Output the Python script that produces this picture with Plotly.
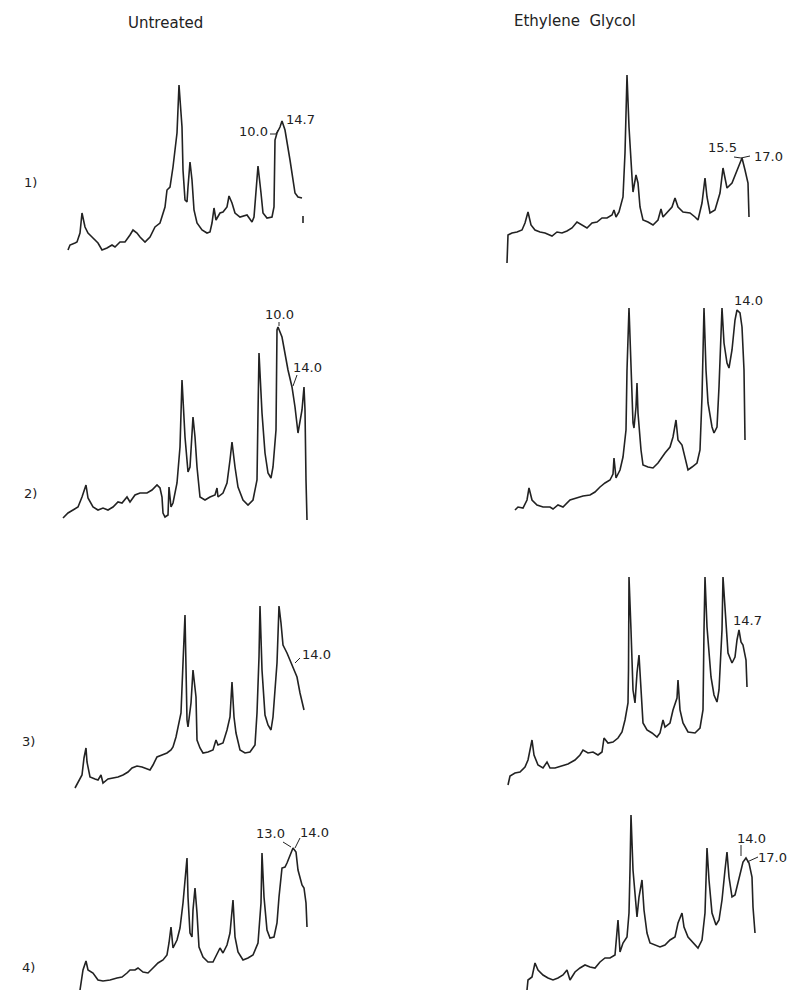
import plotly.graph_objects as go

# ---- data: diffractometer traces, (chart position, intensity) ----
untreated_1 = [(8,10),(10,15),(15,17),(17,18),(20,27),(22,47),(25,33),(28,27),(32,23),(35,20),
               (38,17),(42,10),(47,12),(52,15),(55,13),(60,18),(65,18),(70,25),(73,30),(77,27),
               (80,23),(85,18),(90,23),(95,33),(100,37),(105,53),(107,70),(110,73),(113,93),(117,127),
               (119,175),(122,133),(123,90),(125,60),(127,58),(128,73),(130,98),(132,80),(134,50),(137,37),
               (142,30),(147,27),(150,28),(152,37),(154,52),(156,40),(158,43),(160,47),(163,48),(167,53),
               (169,64),(172,57),(175,47),(180,43),(187,45),(192,38),(194,43),(196,67),(198,94),(201,67),
               (203,47),(207,42),(212,43),(214,53),(215,120),(217,127),(220,133),(222,139),(225,130),(230,100),
               (235,67),(238,63),(242,62),(None,None),(243,44),(243,37)]

glycol_1 = [(7,7),(8,35),(12,37),(17,38),(22,40),(25,47),(28,58),(31,45),(35,40),(40,38),
            (45,37),(52,34),(57,38),(62,37),(67,39),(72,42),(77,48),(82,45),(87,42),(92,47),
            (97,48),(102,52),(107,52),(112,55),(114,60),(116,53),(119,58),(123,73),(125,117),(127,195),
            (129,143),(132,93),(133,78),(136,95),(138,87),(140,63),(143,50),(148,48),(153,45),(158,50),
            (161,61),(163,53),(168,58),(172,63),(175,72),(178,63),(183,58),(190,57),(195,53),(198,50),
            (202,67),(205,92),(207,73),(210,57),(215,60),(220,77),(223,102),(227,82),(232,87),(237,100),
            (242,112),(245,100),(248,87),(249,53)]

untreated_2 = [(3,7),(8,12),(13,15),(18,18),(22,28),(26,40),(28,27),(33,18),(38,15),(43,17),
               (48,15),(53,18),(58,23),(62,22),(67,28),(70,23),(75,30),(80,32),(87,32),(92,35),
               (97,40),(100,37),(102,28),(103,12),(105,8),(108,10),(109,38),(111,18),(113,22),(117,42),
               (120,78),(122,145),(125,88),(128,53),(130,58),(133,108),(135,88),(137,58),(140,28),(145,25),
               (150,28),(155,30),(157,37),(158,28),(163,32),(167,42),(170,65),(172,83),(175,58),(178,38),
               (183,25),(188,20),(193,25),(197,45),(198,112),(199,172),(202,112),(205,72),(208,52),(211,47),
               (213,58),(216,95),(217,195),(218,198),(222,188),(225,172),(228,155),(232,138),(235,118),(238,92),
               (240,102),(242,115),(244,138),(245,115),(246,45),(247,5)]

glycol_2 = [(15,10),(18,13),(23,12),(27,20),(29,32),(32,20),(37,15),(43,13),(50,13),(53,11),
            (58,15),(63,13),(70,20),(77,22),(83,24),(90,25),(95,28),(100,33),(105,37),(110,40),
            (113,46),(114,62),(116,42),(120,50),(123,63),(126,90),(127,150),(129,212),(131,150),(133,97),
            (134,92),(136,113),(137,137),(138,107),(141,70),(143,55),(148,53),(153,52),(158,57),(162,63),
            (165,67),(170,73),(173,83),(176,100),(178,80),(182,75),(185,63),(188,50),(192,53),(197,57),
            (200,70),(202,123),(204,212),(206,150),(208,117),(212,93),(214,87),(217,93),(219,133),(222,212),
            (224,177),(227,157),(229,152),(232,170),(235,200),(237,210),(240,207),(242,193),(244,150),(245,80)]

untreated_3 = [(15,7),(18,13),(22,20),(24,37),(26,47),(27,33),(30,18),(35,16),(38,15),(41,20),
               (43,12),(48,16),(53,17),(58,18),(63,20),(68,23),(72,27),(77,29),(82,28),(87,26),
               (90,25),(93,30),(97,38),(102,40),(107,42),(111,45),(113,48),(116,58),(118,68),(121,82),
               (123,132),(125,180),(127,75),(128,68),(131,92),(133,125),(136,98),(137,55),(140,47),(143,42),
               (148,43),(153,45),(156,55),(158,50),(163,52),(167,65),(170,78),(172,113),(174,78),(176,62),
               (180,45),(185,42),(190,43),(195,50),(197,82),(199,138),(200,189),(202,125),(205,80),(208,70),
               (211,65),(213,78),(217,132),(219,189),(221,172),(223,150),(227,142),(231,133),(233,128),(237,118),
               (240,102),(244,85)]

glycol_3 = [(8,10),(10,19),(15,22),(20,23),(25,28),(28,35),(32,55),(34,40),(38,30),(43,27),
            (47,33),(50,27),(55,27),(62,29),(68,31),(75,35),(80,40),(83,45),(88,42),(93,43),
            (98,40),(102,43),(104,57),(108,52),(113,53),(118,57),(122,63),(125,75),(128,92),(128.5,125),
            (129,218),(131,165),(133,105),(135,92),(137,122),(139,140),(141,108),(143,72),(147,65),(152,62),
            (157,58),(160,62),(163,75),(165,68),(170,72),(173,85),(177,97),(178,115),(180,85),(183,72),
            (188,63),(195,62),(200,67),(203,85),(204,165),(205,218),(207,168),(211,118),(214,100),(217,93),
            (219,105),(222,165),(223,218),(226,172),(228,142),(232,132),(235,138),(237,155),(239,165),(241,153),
            (243,150),(246,135),(247,108)]

untreated_4 = [(20,0),(23,20),(26,29),(28,20),(33,17),(38,10),(43,9),(50,10),(57,12),(62,13),
               (67,17),(70,20),(75,20),(78,22),(83,18),(88,17),(93,22),(98,27),(103,30),(107,35),
               (109,47),(111,63),(113,42),(117,50),(120,62),(123,87),(127,132),(128,93),(130,57),(132,53),
               (133,80),(135,102),(137,77),(139,43),(143,33),(148,28),(153,28),(157,37),(160,42),(163,37),
               (167,45),(170,57),(173,90),(175,53),(178,38),(183,30),(188,32),(193,35),(198,47),(201,87),
               (202,137),(204,93),(207,60),(210,52),(214,53),(217,67),(219,93),(222,122),(225,123),(227,127),
               (230,135),(233,142),(236,138),(238,120),(242,105),(244,102),(246,87),(247,63)]

glycol_4 = [(27,0),(28,10),(32,13),(35,27),(38,20),(43,15),(48,12),(53,10),(58,12),(63,15),
            (67,20),(70,10),(75,18),(80,22),(85,25),(90,23),(95,22),(100,28),(105,32),(110,32),
            (115,35),(118,70),(120,38),(123,47),(127,53),(129,77),(130,120),(131,175),(133,120),(136,80),
            (137,73),(139,93),(142,110),(144,80),(147,57),(150,47),(155,45),(160,43),(165,45),(170,50),
            (175,53),(178,67),(182,77),(184,63),(188,53),(193,48),(198,42),(202,50),(205,77),(207,142),
            (209,110),(212,77),(216,65),(219,70),(222,90),(225,120),(227,138),(229,113),(232,93),(235,95),
            (238,107),(241,120),(243,128),(246,132),(249,127),(252,113),(253,83),(255,57)]

# peak labels (d-spacings in Angstrom) and the peak each one marks
untreated_1_labels = [("10.0", 193, 129), ("14.7", 240, 141)]
glycol_1_labels = [("15.5", 222, 122), ("17.0", 268, 113)]
untreated_2_labels = [("10.0", 219, 210), ("14.0", 247, 157)]
glycol_2_labels = [("14.0", 248, 220)]
untreated_3_labels = [("14.0", 256, 141)]
glycol_3_labels = [("14.7", 247, 175)]
untreated_4_labels = [("13.0", 210, 157), ("14.0", 254, 158)]
glycol_4_labels = [("14.0", 251, 152), ("17.0", 272, 133)]

untreated_1_leaders = [[(210, 126), (216, 126), (218, 130)]]
glycol_1_leaders = [[(234, 113), (241, 112), (250, 114)]]
untreated_2_leaders = [[(219, 203), (219, 199)], [(237, 150), (233, 139)]]
glycol_2_leaders = []
untreated_3_leaders = [[(235, 132), (240, 137)]]
glycol_3_leaders = []
untreated_4_leaders = [[(223, 148), (231, 143)], [(240, 152), (235, 142)]]
glycol_4_leaders = [[(241, 145), (241, 134)], [(258, 133), (247, 128)]]

column_titles = ["Untreated", "Ethylene  Glycol"]
row_labels = ["1)", "2)", "3)", "4)"]

# ---- layout ----
W, H = 787, 990
PW, PH = 285, 240
INK = "#222222"

panels = [
    (untreated_1, untreated_1_labels, untreated_1_leaders, 60, 260),
    (glycol_1, glycol_1_labels, glycol_1_leaders, 500, 270),
    (untreated_2, untreated_2_labels, untreated_2_leaders, 60, 525),
    (glycol_2, glycol_2_labels, glycol_2_leaders, 500, 520),
    (untreated_3, untreated_3_labels, untreated_3_leaders, 60, 795),
    (glycol_3, glycol_3_labels, glycol_3_leaders, 500, 795),
    (untreated_4, untreated_4_labels, untreated_4_leaders, 60, 990),
    (glycol_4, glycol_4_labels, glycol_4_leaders, 500, 990),
]

fig = go.Figure()
annotations = []
layout_axes = {}

for i, (pts, labels, leaders, left, base) in enumerate(panels, start=1):
    xs = [p[0] for p in pts]
    ys = [p[1] for p in pts]
    xa = "x" if i == 1 else f"x{i}"
    ya = "y" if i == 1 else f"y{i}"
    fig.add_trace(go.Scatter(x=xs, y=ys, mode="lines", xaxis=xa, yaxis=ya,
                             line=dict(color=INK, width=1.6), hoverinfo="skip",
                             connectgaps=False, showlegend=False))
    for seg in leaders:
        fig.add_trace(go.Scatter(x=[p[0] for p in seg], y=[p[1] for p in seg], mode="lines",
                                 xaxis=xa, yaxis=ya, line=dict(color=INK, width=1),
                                 hoverinfo="skip", showlegend=False))
    for text, lx, ly in labels:
        annotations.append(dict(text=text, x=lx, y=ly, xref=xa, yref=ya, showarrow=False,
                                xanchor="center", yanchor="middle",
                                font=dict(family="DejaVu Sans", size=13, color=INK)))
    xkey = "xaxis" if i == 1 else f"xaxis{i}"
    ykey = "yaxis" if i == 1 else f"yaxis{i}"
    y0 = (H - base) / H
    layout_axes[xkey] = dict(domain=[left / W, min(1.0, (left + PW) / W)], range=[0, PW], anchor=ya,
                             visible=False, fixedrange=True)
    layout_axes[ykey] = dict(domain=[y0, min(1.0, y0 + PH / H)], range=[0, PH], anchor=xa,
                             visible=False, fixedrange=True)

# column titles
for text, cx, cy in zip(column_titles, [165, 575], [23, 21]):
    annotations.append(dict(text=text, x=cx / W, y=1 - cy / H, xref="paper", yref="paper",
                            xanchor="center", yanchor="middle", showarrow=False,
                            font=dict(family="DejaVu Sans", size=15, color=INK)))
# row labels
for text, cx, cy in zip(row_labels, [30, 30, 28, 28], [183, 493, 741, 967]):
    annotations.append(dict(text=text, x=cx / W, y=1 - cy / H, xref="paper", yref="paper",
                            xanchor="center", yanchor="middle", showarrow=False,
                            font=dict(family="DejaVu Sans", size=13, color=INK)))

fig.update_layout(width=W, height=H, autosize=False,
                  margin=dict(l=0, r=0, t=0, b=0),
                  paper_bgcolor="white", plot_bgcolor="rgba(0,0,0,0)",
                  annotations=annotations, **layout_axes)

fig.write_html("out.html", config={"displayModeBar": False},
               post_script="document.body.style.margin='0';document.body.style.padding='0';")
